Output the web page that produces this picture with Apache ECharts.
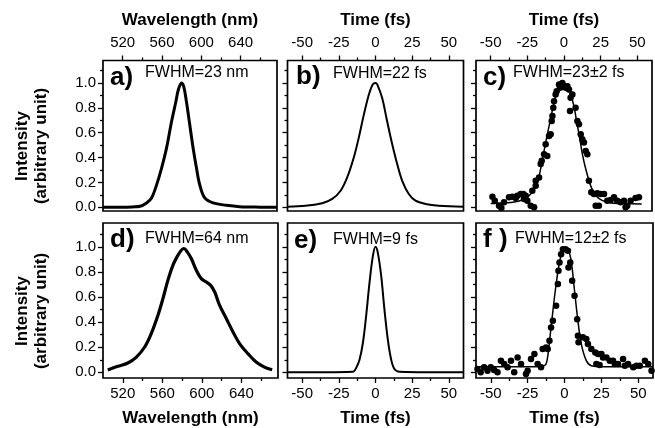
<!DOCTYPE html>
<html><head><meta charset="utf-8">
<script src="https://cdn.jsdelivr.net/npm/echarts@6/dist/echarts.min.js"></script>
<style>html,body{margin:0;padding:0;background:#fff}#c{width:655px;height:428px}</style>
</head><body><div id="c"></div>
<script>
// ---- tick labels ----
const wlMajor = [520, 560, 600, 640];
const wlMinor = [540, 580, 620, 660];
const tMajor = [-50, -25, 0, 25, 50];
const tMinor = [-37.5, -12.5, 12.5, 37.5];
const yMajor = [0, 0.2, 0.4, 0.6, 0.8, 1.0];
const yMinor = [0.1, 0.3, 0.5, 0.7, 0.9, 1.1];

// ---- panel labels / annotations ----
const panelTags = ['a)', 'b)', 'c)', 'd)', 'e)', 'f )'];
const fwhmTexts = ['FWHM=23 nm', 'FWHM=22 fs', 'FWHM=23\u00b12 fs', 'FWHM=64 nm', 'FWHM=9 fs', 'FWHM=12\u00b12 fs'];
const axisTitles = ['Wavelength (nm)', 'Time (fs)', 'Time (fs)', 'Wavelength (nm)', 'Time (fs)', 'Time (fs)'];
const yTitle = 'Intensity\n(arbitrary unit)';

// ---- a) spectrum, FWHM 23 nm ----
const specA = [[500,0],[520,0],[530,0.003],[537.6,0.008],[544.3,0.035],[549.4,0.075],[554.5,0.18],[559.6,0.315],[564.6,0.475],[569.7,0.688],[574.1,0.848],[576.5,0.941],[579.8,1.0],[582.2,0.968],[584.9,0.848],[588.3,0.661],[591.7,0.475],[595.1,0.315],[598.4,0.181],[603.5,0.075],[612,0.035],[625.5,0.016],[639,0.005],[660,0.001],[677,0]];
// ---- b) pulse, FWHM 22 fs ----
const pulseB = [[-60,0.005],[-47.7,0.013],[-36.3,0.032],[-29.5,0.067],[-23.8,0.133],[-19.3,0.24],[-14.8,0.40],[-11.4,0.56],[-7.9,0.747],[-4.5,0.907],[-1.8,0.99],[0,1.0],[1.1,0.99],[4.5,0.88],[7.9,0.693],[11.4,0.507],[14.8,0.347],[18.2,0.213],[22.7,0.107],[27.3,0.053],[34.1,0.027],[43.1,0.013],[60,0.005]];
// ---- c) measured points + fit ----
const fitC = [[-50,0.03],[-45,0.032],[-35,0.04],[-28,0.06],[-24,0.09],[-20,0.15],[-17,0.25],[-14,0.43],[-12,0.55],[-9.5,0.69],[-7,0.83],[-5,0.92],[-2.5,0.98],[0,1.0],[2,0.98],[4.5,0.91],[7,0.8],[8.6,0.69],[10.5,0.57],[12.5,0.43],[15,0.3],[18.6,0.16],[22,0.09],[26,0.055],[32,0.035],[45,0.028],[53,0.027]];
const ptsC = [[-48.8,0.085],[-47.2,0.053],[-44.3,0.013],[-42.7,-0.005],[-40.9,0.04],[-37.5,0.08],[-35.2,0.085],[-32.9,0.075],[-31.8,0.093],[-29.5,0.107],[-27.7,0.107],[-26.1,0.093],[-27.3,0.067],[-25.0,0.053],[-22.7,0.013],[-20.4,0.0],[-21.6,0.133],[-19.3,0.173],[-19.3,0.213],[-17.0,0.24],[-15.9,0.347],[-15.2,0.373],[-13.6,0.427],[-11.4,0.413],[-12.5,0.507],[-10.2,0.573],[-9.1,0.587],[-8.4,0.693],[-7.9,0.733],[-7.3,0.8],[-6.8,0.853],[-5.7,0.907],[-5.0,0.933],[-3.4,0.987],[-2.7,0.96],[-1.1,1.0],[0,0.973],[1.1,0.96],[2.3,0.973],[3.4,0.947],[4.5,0.88],[4.1,0.773],[5.7,0.907],[7.9,0.8],[9.1,0.693],[10.2,0.667],[11.4,0.587],[12.5,0.547],[13.6,0.52],[14.8,0.453],[15.9,0.427],[17.0,0.213],[18.6,0.12],[20.4,0.107],[22.7,0.112],[25.0,0.107],[27.3,0.107],[21.6,0.013],[23.8,0.013],[29.5,0.053],[31.8,0.059],[34.1,0.08],[36.3,0.053],[38.6,0.04],[40.9,0.053],[42.0,0.0],[43.1,0.013],[45.4,0.053],[48.8,0.075],[51.1,0.08]];
// ---- d) spectrum, FWHM 64 nm ----
const specD = [[504.8,0.019],[514.9,0.048],[525.1,0.075],[533.5,0.12],[542,0.20],[548.7,0.307],[555.5,0.453],[560.6,0.587],[565.6,0.733],[570.7,0.853],[575.8,0.933],[579.2,0.973],[581.9,0.987],[585.2,0.96],[589.3,0.907],[594.4,0.813],[599.4,0.747],[604.5,0.72],[608.9,0.693],[613,0.64],[618,0.533],[624.8,0.427],[631.6,0.32],[638.3,0.227],[646.8,0.147],[655.2,0.08],[663.7,0.04],[671.1,0.021]];
// ---- e) pulse, FWHM 9 fs ----
const pulseE = [[-60,0],[-15.4,0.005],[-13.2,0.035],[-10.9,0.10],[-8.6,0.234],[-6.4,0.447],[-4.1,0.713],[-1.8,0.926],[0,1.0],[1.6,0.952],[3.9,0.766],[6.1,0.5],[8.4,0.261],[10.7,0.101],[12.9,0.027],[16.4,0.005],[60,0]];
// ---- f) measured points + fit ----
const fitF = [[-60,0.045],[-20,0.045],[-14.5,0.05],[-12.5,0.066],[-10.9,0.17],[-9.1,0.36],[-5.7,0.70],[-2.7,0.915],[0,0.99],[2.3,0.98],[4.5,0.89],[6.8,0.65],[9.1,0.41],[11.4,0.225],[14.8,0.093],[18.2,0.053],[27.3,0.045],[60,0.045]];
const ptsF = [[-59.0,0.027],[-56.8,0.0],[-54.5,0.04],[-52.2,0.013],[-50.0,0.04],[-47.7,0.019],[-45.4,0.0],[-43.1,0.093],[-40.9,0.066],[-38.6,0.04],[-36.3,0.093],[-34.1,0.0],[-31.8,0.119],[-29.5,0.066],[-26.1,-0.013],[-25.0,0.013],[-22.7,0.106],[-20.4,0.146],[-18.2,0.066],[-15.9,0.04],[-14.8,0.186],[-12.5,0.199],[-11.4,0.186],[-10.2,0.252],[-9.1,0.358],[-7.9,0.411],[-5.7,0.531],[-4.5,0.703],[-4.1,0.809],[-3.4,0.875],[-2.3,0.942],[-1.1,0.981],[0.7,0.981],[2.3,0.968],[2.7,0.836],[3.9,0.875],[5.2,0.729],[6.8,0.61],[8.6,0.424],[9.1,0.292],[9.5,0.239],[12.5,0.279],[14.8,0.265],[15.9,0.225],[18.2,0.186],[20.9,0.159],[22.7,0.146],[25.0,0.146],[26.1,0.119],[28.4,0.119],[30.7,0.093],[32.9,0.093],[34.1,0.066],[36.3,0.066],[39.7,0.106],[40.9,0.053],[43.1,0.066],[46.6,0.04],[48.8,0.053],[51.1,0.053],[54.5,0.093],[56.8,0.066],[59.0,0.013],[21.6,0.066],[23.8,0.058]];

const FONT = '"Liberation Sans", Arial, sans-serif';
const chart = echarts.init(document.getElementById('c'), null, {renderer: 'canvas'});

const layout = [
  {left:103, top:60.5, width:174, height:150.5},
  {left:287.5, top:60.5, width:176, height:150.5},
  {left:476, top:60.5, width:176, height:150.5},
  {left:103, top:223, width:175, height:156},
  {left:287.5, top:223, width:176, height:156},
  {left:476, top:223, width:177, height:156}
];
const xRange = [[500,677],[-60,60],[-60,60],[500,677],[-60,60],[-60,60]];
const yRange = [[-0.03,1.18],[-0.045,1.19]];

const grid = [], xAxis = [], yAxis = [], series = [];
layout.forEach((g, i) => {
  const row = i < 3 ? 0 : 1, col = i % 3;
  const isWl = col === 0;
  grid.push(Object.assign({show:true, borderColor:'#000', borderWidth:1.7, backgroundColor:'#fff'}, g));
  const majors = isWl ? wlMajor : tMajor;
  const minors = isWl ? wlMinor : tMinor;
  const pos = row === 0 ? 'top' : 'bottom';
  xAxis.push({
    gridIndex:i, type:'value', min:xRange[i][0], max:xRange[i][1], position:pos,
    axisLine:{show:false, onZero:false}, splitLine:{show:false},
    axisTick:{show:true, length:5, customValues:majors, lineStyle:{color:'#000', width:1.3}},
    axisLabel:{show:true, customValues:majors, color:'#000', fontSize:15, fontFamily:FONT, margin: row===0 ? 10 : 8},
    name: axisTitles[i], nameLocation:'middle', nameGap: row===0 ? 32 : 32,
    nameTextStyle:{color:'#000', fontSize:17, fontWeight:'bold', fontFamily:FONT}
  });
  xAxis.push({
    gridIndex:i, type:'value', min:xRange[i][0], max:xRange[i][1], position:pos,
    axisLine:{show:false, onZero:false}, splitLine:{show:false},
    axisTick:{show:true, length:3, customValues:minors, lineStyle:{color:'#000', width:1.3}},
    axisLabel:{show:false}
  });
  yAxis.push({
    gridIndex:i, type:'value', min:yRange[row][0], max:yRange[row][1], position:'left',
    axisLine:{show:false, onZero:false}, splitLine:{show:false},
    axisTick:{show:true, length:5, customValues:yMajor, lineStyle:{color:'#000', width:1.3}},
    axisLabel:{show: col===0, customValues:yMajor, color:'#000', fontSize:15, fontFamily:FONT, margin:7,
      formatter: v => v.toFixed(1)}
  });
  yAxis.push({
    gridIndex:i, type:'value', min:yRange[row][0], max:yRange[row][1], position:'left',
    axisLine:{show:false, onZero:false}, splitLine:{show:false},
    axisTick:{show:true, length:3, customValues:yMinor, lineStyle:{color:'#000', width:1.3}},
    axisLabel:{show:false}
  });
});

function lineSeries(i, data, w) {
  return {type:'line', xAxisIndex:2*i, yAxisIndex:2*i, data:data, showSymbol:false, symbol:'none',
    smooth:0.35, lineStyle:{color:'#000', width:w}, z:3, silent:true};
}
function dotSeries(i, data) {
  return {type:'scatter', xAxisIndex:2*i, yAxisIndex:2*i, data:data, symbol:'circle', symbolSize:6.5,
    itemStyle:{color:'#000', opacity:1}, z:2, silent:true};
}
series.push(lineSeries(0, specA, 3));
series.push(lineSeries(1, pulseB, 2));
series.push(dotSeries(2, ptsC));
series.push(lineSeries(2, fitC, 1.5));
series.push(lineSeries(3, specD, 3.2));
series.push(lineSeries(4, pulseE, 2));
series.push(dotSeries(5, ptsF));
series.push(lineSeries(5, fitF, 1.5));

// annotation positions
const tagPos = [[110,78],[296,77],[483,77.5],[110,240],[294,241],[483,240]];
const fwhmPos = [[145,73],[333,74],[513,72.5],[145,238.5],[333,240],[515,239]];
const graphic = [];
panelTags.forEach((t, i) => {
  graphic.push({type:'text', x:tagPos[i][0], y:tagPos[i][1], z:10,
    style:{text:t, fill:'#000', font:'bold 26px ' + FONT, align:'left', verticalAlign:'middle'}});
  graphic.push({type:'text', x:fwhmPos[i][0], y:fwhmPos[i][1], z:10,
    style:{text:fwhmTexts[i], fill:'#000', font:'16px ' + FONT, align:'left', verticalAlign:'middle'}});
});
[146, 311].forEach(cy => {
  graphic.push({type:'text', x:32, y:cy, rotation:Math.PI/2, z:10,
    style:{text:yTitle, fill:'#000', font:'bold 17px ' + FONT, align:'center', verticalAlign:'middle', lineHeight:19}});
});

chart.setOption({animation:false, backgroundColor:'#fff', grid, xAxis, yAxis, series, graphic});
</script></body></html>
